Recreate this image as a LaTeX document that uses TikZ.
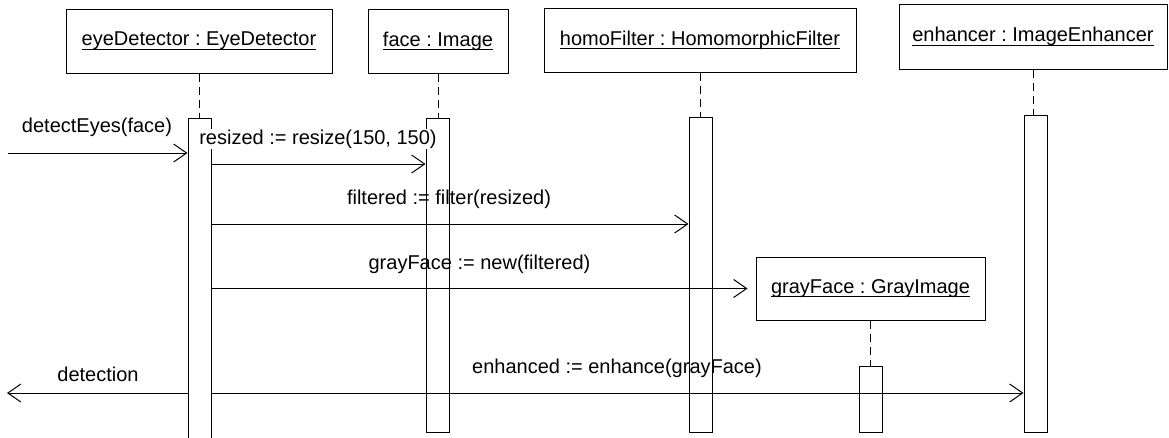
\documentclass[tikz,border=0pt]{standalone}
\usepackage{fontspec}
\setmainfont{Liberation Sans}
\usetikzlibrary{arrows.meta}
\frenchspacing
\newcommand{\ulname}[1]{\setbox0\hbox{#1}\rlap{\rule[-4pt]{\wd0}{1pt}}\box0}
\begin{document}
\begin{tikzpicture}[x=1pt,y=-1pt,line width=1pt,
  every node/.style={font=\fontsize{20pt}{24pt}\selectfont\frenchspacing, inner sep=0pt},
  obj/.style={draw, rectangle, inner sep=0pt},
  bar/.style={draw, rectangle, minimum width=23pt, inner sep=0pt},
  life/.style={dash pattern=on 8pt off 5pt},
  msg/.style={-{Straight Barb[length=13pt,width=18pt]}},
  lbl/.style={anchor=base}]
\useasboundingbox (0,0) rectangle (1169,437);

% object boxes
\node[obj, minimum width=266pt, minimum height=64pt] (ed) at (199,41) {\ulname{eyeDetector : EyeDetector}};
\node[obj, minimum width=140pt, minimum height=64pt] (fc) at (438,41) {\ulname{face : Image}};
\node[obj, minimum width=312pt, minimum height=64pt] (hf) at (700,40) {\ulname{homoFilter : HomomorphicFilter}};
\node[obj, minimum width=268pt, minimum height=65pt] (en) at (1033,36.5) {\ulname{enhancer : ImageEnhancer}};
\node[obj, minimum width=229pt, minimum height=63pt] (gf) at (870.5,288.5) {\ulname{grayFace : GrayImage}};

% activation bars
\node[bar, minimum height=332pt] (edb) at (199.5,284) {};
\node[bar, minimum height=314pt] (fcb) at (437.5,275) {};
\node[bar, minimum height=315pt] (hfb) at (700.5,274.5) {};
\node[bar, minimum height=317pt] (enb) at (1035.5,273.5) {};
\node[bar, minimum height=66pt] (gfb) at (870.5,399) {};

% lifelines
\draw[life] (ed.south) -- (ed.south |- edb.north);
\draw[life] (fc.south) -- (fc.south |- fcb.north);
\draw[life] (hf.south) -- (hf.south |- hfb.north);
\draw[life] (en.south) -- (en.south |- enb.north);
\draw[life] (gf.south) -- (gf.south |- gfb.north);

% messages
\coordinate (src) at (8,153);
\draw[msg] (src) -- (src -| edb.west);
\coordinate (y2) at (0,164);
\draw[msg] (y2 -| edb.east) -- (y2 -| fcb.west);
\coordinate (y3) at (0,224);
\draw[msg] (y3 -| edb.east) -- (y3 -| hfb.west);
\coordinate (t4) at ([xshift=-8pt]gf.west);
\draw[msg] (edb.east |- t4) -- (t4);
\coordinate (y5) at (0,393);
\draw[msg] (y5 -| edb.east) -- (y5 -| enb.west);
\coordinate (dst) at (7,393);
\draw[msg] (dst -| edb.west) -- (dst);

% labels
\node[lbl] (l1) at (97,132) {detectEyes(face)};
\node[lbl, fill=white, inner sep=1pt] (l2) at (318,144) {resized := resize(150, 150)};
\node[lbl] (l3) at (449,204) {filtered := filter(resized)};
\node[lbl] (l4) at (479.5,269) {grayFace := new(filtered)};
\node[lbl] (l5) at (617,373) {enhanced := enhance(grayFace)};
\node[lbl] (l6) at (98,381) {detection};
\end{tikzpicture}
\end{document}
